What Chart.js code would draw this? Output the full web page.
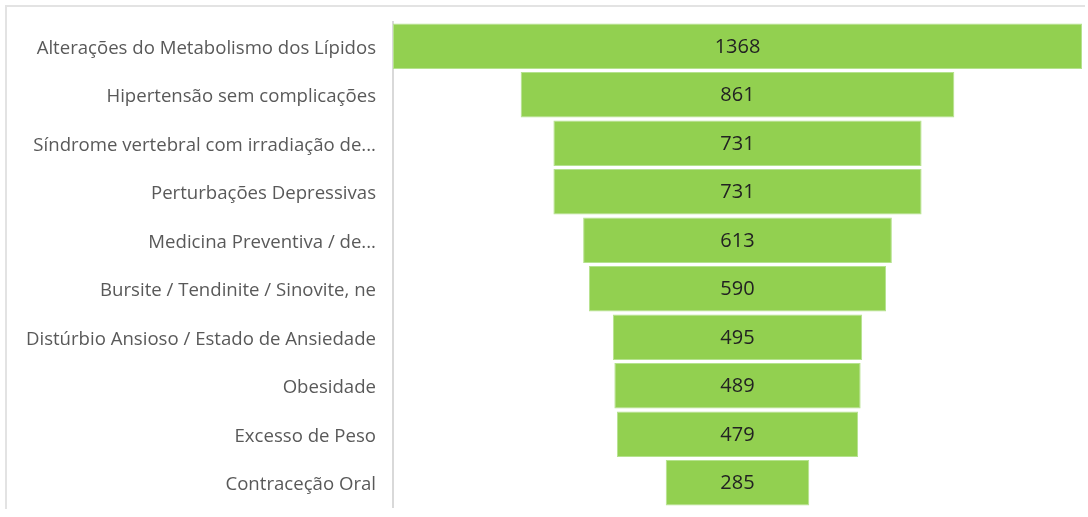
<!DOCTYPE html>
<html lang="pt">
<head>
    <meta charset="UTF-8">
    <title>Funil</title>
    <script src="https://cdn.jsdelivr.net/npm/chart.js@4.4.0/dist/chart.umd.min.js"></script>
    <style>
        html, body { margin: 0; padding: 0; background: #fff; }
        .wrap { position: relative; width: 1088px; height: 517px; }
        .frame {
            position: absolute; left: 5px; top: 5px; width: 1078px; height: 502px;
            border-top: 2px solid #e3e3e3; border-left: 2px solid #e3e3e3;
        }
        canvas { position: absolute; left: 0; top: 0; }
    </style>
</head>
<body>
    <div class="wrap">
        <div class="frame"></div>
        <canvas id="myChart" width="1088" height="517"></canvas>
    </div>
    <script>
        var categorias = [
            'Alterações do Metabolismo dos Lípidos',
            'Hipertensão sem complicações',
            'Síndrome vertebral com irradiação de...',
            'Perturbações Depressivas',
            'Medicina Preventiva / de...',
            'Bursite / Tendinite / Sinovite, ne',
            'Distúrbio Ansioso / Estado de Ansiedade',
            'Obesidade',
            'Excesso de Peso',
            'Contraceção Oral'
        ];
        var valores = [1368, 861, 731, 731, 613, 590, 495, 489, 479, 285];

        var maximo = Math.max.apply(null, valores);
        // barras flutuantes centradas para fazer o funil
        var intervalos = valores.map(v => [(maximo - v) / 2, (maximo + v) / 2]);

        var rotulos = {
            id: 'rotulos',
            afterDatasetsDraw(chart) {
                var ctx = chart.ctx;
                var meta = chart.getDatasetMeta(0);
                ctx.save();
                ctx.font = '20px "Open Sans"';
                ctx.fillStyle = '#222';
                ctx.textAlign = 'center';
                ctx.textBaseline = 'middle';
                meta.data.forEach((bar, i) => {
                    var x = (bar.x + bar.base) / 2;
                    ctx.fillText(valores[i], x, bar.y + 1);
                });
                ctx.restore();
            }
        };

        var ctx = document.getElementById('myChart').getContext('2d');
        new Chart(ctx, {
            type: 'bar',
            data: {
                labels: categorias,
                datasets: [{
                    data: intervalos,
                    backgroundColor: '#92d050',
                    borderColor: '#b5e28e',
                    borderWidth: 1,
                    borderSkipped: false,
                    categoryPercentage: 1,
                    barPercentage: 0.94
                }]
            },
            options: {
                indexAxis: 'y',
                responsive: false,
                animation: false,
                layout: { padding: { top: 22, bottom: 10, right: 6, left: 0 } },
                plugins: {
                    legend: { display: false },
                    tooltip: { enabled: false }
                },
                scales: {
                    x: {
                        display: false,
                        min: 0,
                        max: maximo
                    },
                    y: {
                        afterFit(scale) {
                            scale.width = 393;
                            scale.paddingTop = 0;
                            scale.paddingBottom = 0;
                        },
                        grid: { drawOnChartArea: false, drawTicks: false },
                        border: { display: true, color: '#d9d9d9', width: 2 },
                        ticks: {
                            padding: 17,
                            labelOffset: 2,
                            color: '#595959',
                            font: { family: 'Open Sans', size: 18.6 }
                        }
                    }
                }
            },
            plugins: [rotulos]
        });
    </script>
</body>
</html>
